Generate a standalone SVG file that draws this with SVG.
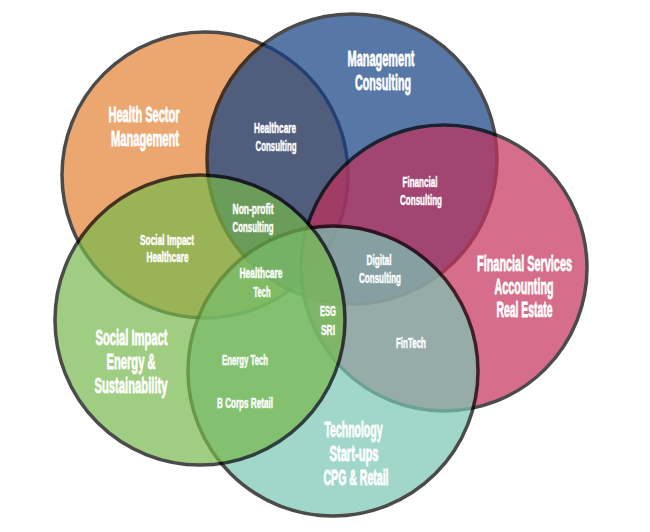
<svg xmlns="http://www.w3.org/2000/svg" width="650" height="532" viewBox="0 0 650 532">
<style>
.c{opacity:0.7;stroke:#000;stroke-width:3.5}
text{font-family:"Liberation Sans",Arial,sans-serif;font-weight:bold;fill:#fff;stroke:#fff;text-anchor:middle;stroke-linejoin:round}
.big{font-size:22px;stroke-width:0.8}
.sm{font-size:15px;stroke-width:0.5}
</style>
<rect width="650" height="532" fill="#fff"/>
<g id="health-sector">
<circle class="c" cx="205" cy="175" r="143" fill="#E38333"/>
<text class="big" x="144" y="122" textLength="71" lengthAdjust="spacingAndGlyphs">Health Sector</text>
<text class="big" x="145" y="146" textLength="68" lengthAdjust="spacingAndGlyphs">Management</text>
</g>
<g id="management-consulting">
<circle class="c" cx="352" cy="159" r="145" fill="#113E83"/>
<text class="big" x="381" y="66" textLength="67" lengthAdjust="spacingAndGlyphs">Management</text>
<text class="big" x="383" y="90" textLength="56" lengthAdjust="spacingAndGlyphs">Consulting</text>
</g>
<g id="financial-services">
<circle class="c" cx="444" cy="268" r="143" fill="#C4305B"/>
<text class="big" x="524.5" y="271" textLength="95" lengthAdjust="spacingAndGlyphs">Financial Services</text>
<text class="big" x="524" y="294" textLength="59" lengthAdjust="spacingAndGlyphs">Accounting</text>
<text class="big" x="524.5" y="317" textLength="56" lengthAdjust="spacingAndGlyphs">Real Estate</text>
</g>
<g id="technology">
<circle class="c" cx="333" cy="371" r="145" fill="#7AC7B6"/>
<text class="big" x="353.5" y="437" textLength="58" lengthAdjust="spacingAndGlyphs">Technology</text>
<text class="big" x="354" y="461" textLength="49" lengthAdjust="spacingAndGlyphs">Start-ups</text>
<text class="big" x="356" y="485" textLength="65" lengthAdjust="spacingAndGlyphs">CPG &amp; Retail</text>
</g>
<g id="social-impact-energy">
<circle class="c" cx="200" cy="320" r="145" fill="#77B94C"/>
<text class="big" x="131.5" y="345" textLength="72" lengthAdjust="spacingAndGlyphs">Social Impact</text>
<text class="big" x="131" y="369" textLength="49" lengthAdjust="spacingAndGlyphs">Energy &amp;</text>
<text class="big" x="131" y="393" textLength="73" lengthAdjust="spacingAndGlyphs">Sustainability</text>
</g>
<g id="healthcare-consulting">
<text class="sm" x="275" y="133" textLength="42" lengthAdjust="spacingAndGlyphs">Healthcare</text>
<text class="sm" x="276" y="151" textLength="41" lengthAdjust="spacingAndGlyphs">Consulting</text>
</g>
<g id="non-profit-consulting">
<text class="sm" x="253" y="214" textLength="41" lengthAdjust="spacingAndGlyphs">Non-profit</text>
<text class="sm" x="253" y="232" textLength="41" lengthAdjust="spacingAndGlyphs">Consulting</text>
</g>
<g id="social-impact-healthcare">
<text class="sm" x="167" y="245" textLength="54" lengthAdjust="spacingAndGlyphs">Social Impact</text>
<text class="sm" x="167.5" y="262" textLength="42" lengthAdjust="spacingAndGlyphs">Healthcare</text>
</g>
<g id="financial-consulting">
<text class="sm" x="420" y="187" textLength="35" lengthAdjust="spacingAndGlyphs">Financial</text>
<text class="sm" x="421" y="205" textLength="42" lengthAdjust="spacingAndGlyphs">Consulting</text>
</g>
<g id="digital-consulting">
<text class="sm" x="379" y="265" textLength="25" lengthAdjust="spacingAndGlyphs">Digital</text>
<text class="sm" x="380" y="283" textLength="42" lengthAdjust="spacingAndGlyphs">Consulting</text>
</g>
<g id="healthcare-tech">
<text class="sm" x="261" y="278" textLength="43" lengthAdjust="spacingAndGlyphs">Healthcare</text>
<text class="sm" x="262" y="297" textLength="17" lengthAdjust="spacingAndGlyphs">Tech</text>
</g>
<g id="esg-sri">
<text class="sm" x="328" y="316" textLength="16" lengthAdjust="spacingAndGlyphs">ESG</text>
<text class="sm" x="328" y="335" textLength="14" lengthAdjust="spacingAndGlyphs">SRI</text>
</g>
<g id="fintech">
<text class="sm" x="411" y="348" textLength="30" lengthAdjust="spacingAndGlyphs">FinTech</text>
</g>
<g id="energy-tech">
<text class="sm" x="245" y="365" textLength="46" lengthAdjust="spacingAndGlyphs">Energy Tech</text>
</g>
<g id="b-corps-retail">
<text class="sm" x="245" y="408" textLength="56" lengthAdjust="spacingAndGlyphs">B Corps Retail</text>
</g>
</svg>
